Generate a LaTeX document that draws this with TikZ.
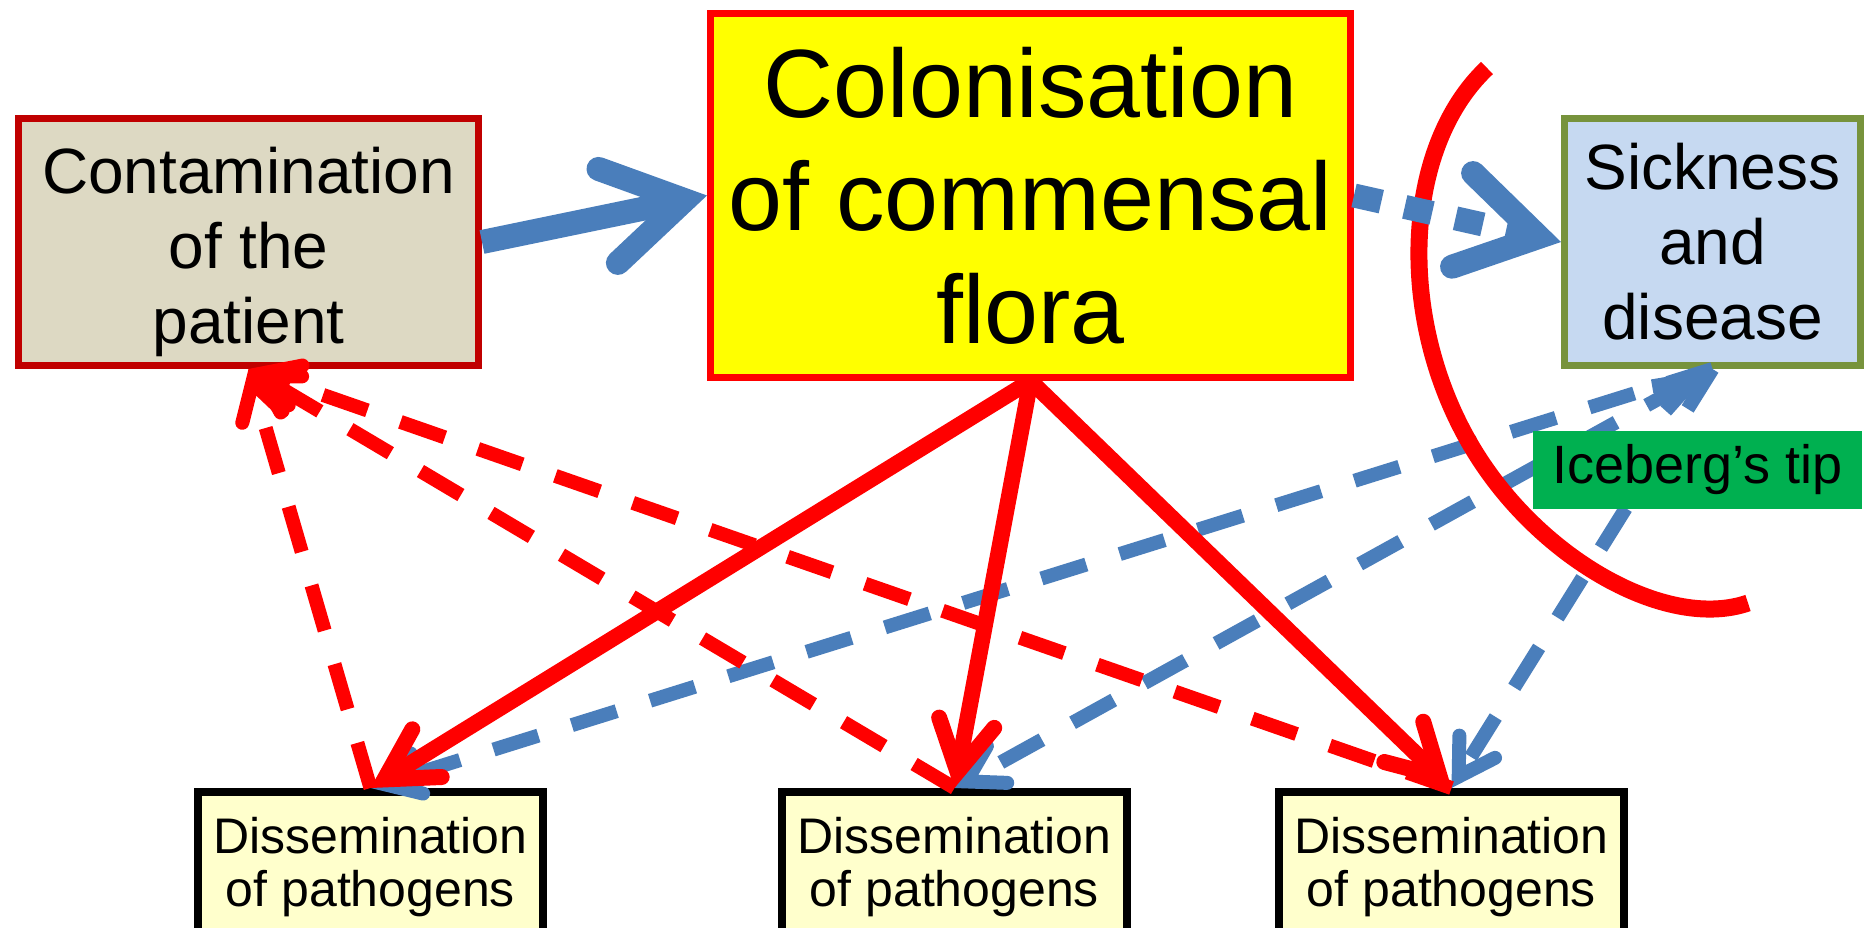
\documentclass[tikz,border=0pt]{standalone}
\usepackage{fontspec}
\setmainfont{Liberation Sans}
\usetikzlibrary{arrows.meta}
\definecolor{cblue}{HTML}{4A7EBB}
\definecolor{cred}{HTML}{FF0000}
\definecolor{cdarkred}{HTML}{C00000}
\definecolor{ctan}{HTML}{DDD9C3}
\definecolor{cyel}{HTML}{FFFF00}
\definecolor{clblue}{HTML}{C6D9F1}
\definecolor{colive}{HTML}{77933C}
\definecolor{cgreen}{HTML}{00B050}
\definecolor{cpale}{HTML}{FFFFCC}
\begin{document}
\begin{tikzpicture}[x=1pt,y=-1pt,
  box/.style={draw, line width=7pt, inner sep=0pt, align=center},
  bigfont/.style={font=\fontsize{97}{113}\selectfont},
  midfont/.style={font=\fontsize{64}{75}\selectfont},
  dissbox/.style={draw=black, fill=cpale, line width=8pt, inner sep=0pt, align=center,
     minimum width=345pt, minimum height=150pt, font=\fontsize{50}{53}\selectfont},
  bigarrow/.style={cblue, line width=24pt,
     -{Straight Barb[length=78pt, width=96pt, line cap=round, line join=miter]}},
  bigdash/.style={cblue, line width=24pt, dash pattern=on 28pt off 24pt,
     -{Straight Barb[length=78pt, width=96pt, line cap=round, line join=miter]}},
  rsolid/.style={cred, line width=16pt,
     -{Straight Barb[length=50pt, width=56pt, line cap=round, line join=miter]}},
  rdash/.style={cred, line width=14pt, dash pattern=on 47pt off 35pt,
     -{Straight Barb[length=36pt, width=42pt, line cap=round, line join=miter]}},
  bthin/.style={cblue, line width=14pt, dash pattern=on 47pt off 35pt},
  smalltip/.tip={Straight Barb[length=35pt, width=42pt, line cap=round, line join=miter]},
  butttip/.tip={Straight Barb[length=40pt, width=28pt, line cap=butt, line join=miter]}
]
\fill[white] (0,0) rectangle (1866,928);
\useasboundingbox (0,0) rectangle (1866,928);

% main boxes
\node[box, midfont, draw=cdarkred, fill=ctan, minimum width=460pt, minimum height=247pt]
  (cont) at (248.5,242) {\rule{0pt}{66pt}Contamination\\of the\\patient};
\node[box, bigfont, draw=cred, fill=cyel, minimum width=640pt, minimum height=364pt]
  (col) at (1030.5,195.5) {Colonisation\\of commensal\\flora};
\node[box, midfont, draw=colive, fill=clblue, minimum width=296pt, minimum height=247pt]
  (sick) at (1712.5,242) {Sickness\\and\\disease};
\node[dissbox] (d1) at (370.5,867) {Dissemination\\of pathogens};
\node[dissbox] (d2) at (954.5,867) {Dissemination\\of pathogens};
\node[dissbox] (d3) at (1451.5,867) {Dissemination\\of pathogens};

% blue dashed connectors
\draw[bthin, -smalltip] (sick.south) -- (d1.north);
\draw[bthin, butttip-smalltip] (sick.south) -- (d2.north);
\draw[bthin, -smalltip] (sick.south) -- (d3.north);

% iceberg label
\node[fill=cgreen, inner sep=0pt, minimum width=329pt, minimum height=78pt,
  font=\fontsize{54}{60}\selectfont] (ice) at (1697.5,470) {Iceberg’s tip};

% iceberg arc
\draw[cred, line width=17pt]
  (1487,68) .. controls (1400,150) and (1395,330) .. (1480,460)
            .. controls (1548,564) and (1670,630) .. (1748,603);

% red dashed connectors
\draw[rdash] (d1.north) -- (cont.south);
\draw[rdash] (d2.north) -- (cont.south);
\draw[rdash] (d3.north) -- (cont.south);

% red solid connectors
\draw[rsolid] (col.south) -- (d1.north);
\draw[rsolid] (col.south) -- (d2.north);
\draw[rsolid] (col.south) -- (d3.north);

% big blue arrows
\draw[bigarrow] (cont.east) -- (col.west);
\draw[bigdash] (col.east) -- (sick.west);
\end{tikzpicture}
\end{document}
